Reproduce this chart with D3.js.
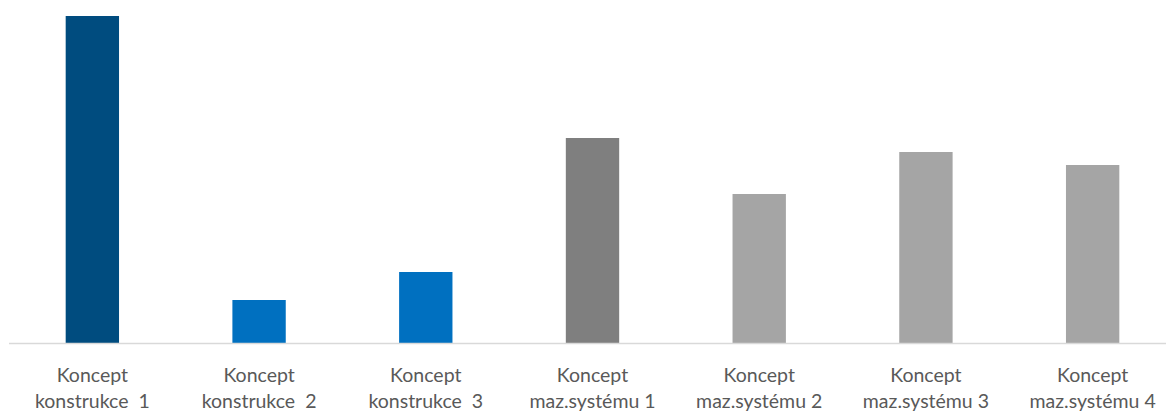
<!DOCTYPE html>
<html>
<head>
<meta charset="utf-8">
<script src="https://cdn.jsdelivr.net/npm/d3@7"></script>
<style>
  body { margin: 0; background: #fff; }
  text { white-space: pre; }
</style>
</head>
<body>
<div id="chart"></div>
<script>
const line1 = ["Koncept", "Koncept", "Koncept", "Koncept", "Koncept", "Koncept", "Koncept"]
const line2 = ["konstrukce  1", "konstrukce  2", "konstrukce  3", "maz.systému 1", "maz.systému 2", "maz.systému 3", "maz.systému 4"]
const values = [327, 43, 71, 205, 149, 191, 178]
const colors = ["#004c7f", "#0070c0", "#0070c0", "#7f7f7f", "#a5a5a5", "#a5a5a5", "#a5a5a5"]

const width = 1170, height = 417
const baseY = 343

const svg = d3.select("#chart").append("svg")
  .attr("width", width)
  .attr("height", height)

const x = d3.scaleBand()
  .domain(d3.range(values.length))
  .range([9, 1176])
  .paddingInner(0.68)
  .paddingOuter(0.34)

const y = d3.scaleLinear()
  .domain([0, 327])
  .range([baseY, 16])

svg.selectAll("rect.bar")
  .data(values)
  .enter().append("rect")
    .attr("class", "bar")
    .attr("x", (d, i) => x(i))
    .attr("width", x.bandwidth())
    .attr("y", d => y(d))
    .attr("height", d => baseY - y(d))
    .attr("fill", (d, i) => colors[i])

// baseline
svg.append("line")
  .attr("x1", 9).attr("x2", 1166)
  .attr("y1", baseY + 0.5).attr("y2", baseY + 0.5)
  .attr("stroke", "#d9d9d9")
  .attr("stroke-width", 1.5)

const labels = svg.selectAll("g.lbl")
  .data(line1)
  .enter().append("g")
    .attr("class", "lbl")
    .attr("transform", (d, i) => "translate(" + (x(i) + x.bandwidth() / 2) + ",0)")

labels.append("text")
  .attr("y", 382)
  .attr("text-anchor", "middle")
  .attr("font-family", "Lato, sans-serif")
  .attr("font-size", 19.5)
  .attr("fill", "#595959")
  .text(d => d)

labels.append("text")
  .attr("y", 408)
  .attr("text-anchor", "middle")
  .attr("font-family", "Lato, sans-serif")
  .attr("font-size", 19.5)
  .attr("fill", "#595959")
  .text((d, i) => line2[i])
</script>
</body>
</html>
